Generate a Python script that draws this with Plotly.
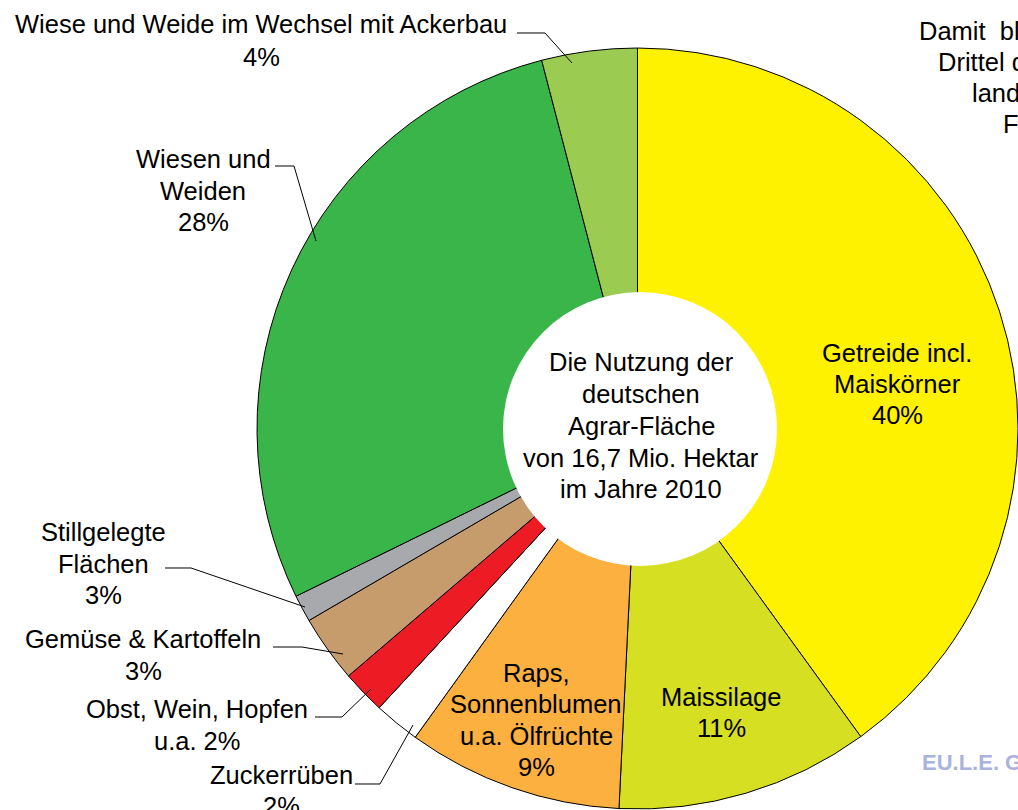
import plotly.graph_objects as go

W, H = 1018, 810

# ---- data (clockwise from 12 o'clock) ----
categories = [
    "Getreide incl. Maiskörner",
    "Maissilage",
    "Raps, Sonnenblumen u.a. Ölfrüchte",
    "Zuckerrüben",
    "Obst, Wein, Hopfen u.a.",
    "Gemüse & Kartoffeln",
    "Stillgelegte Flächen",
    "Wiesen und Weiden",
    "Wiese und Weide im Wechsel mit Ackerbau",
]
values = [40.0, 10.75, 9.15, 1.95, 1.85, 2.85, 1.15, 28.2, 4.05]
percent_labels = ["40%", "11%", "9%", "2%", "2%", "3%", "3%", "28%", "4%"]
colors = ["#FFF200", "#D7DF23", "#FBB040", "#FFFFFF", "#ED1C24",
          "#C69C6D", "#A7A9AC", "#39B54A", "#9CCB52"]

center_title = ["Die Nutzung der", "deutschen", "Agrar-Fläche",
                "von 16,7 Mio. Hektar", "im Jahre 2010"]

# label text lines per slice
label_lines = [
    ["Getreide incl.", "Maiskörner", percent_labels[0]],
    ["Maissilage", percent_labels[1]],
    ["Raps,", "Sonnenblumen", "u.a. Ölfrüchte", percent_labels[2]],
    ["Zuckerrüben", percent_labels[3]],
    ["Obst, Wein, Hopfen", "u.a. " + percent_labels[4]],
    ["Gemüse & Kartoffeln", percent_labels[5]],
    ["Stillgelegte", "Flächen", percent_labels[6]],
    ["Wiesen und", "Weiden", percent_labels[7]],
    ["Wiese und Weide im Wechsel mit Ackerbau", percent_labels[8]],
]

side_text = ["Damit\u00a0 bleibt", "Drittel der", "landwirt-", "Fläche"]
watermark = "EU.L.E. GmbH"

# ---- layout helpers (pixel positions of the text and leader lines) ----
label_pos = [  # (centre x, y of each line)
    (897, [353, 384, 415]),
    (721, [697, 728]),
    (536, [673, 704, 736, 767]),
    (281, [775, 806]),
    (197, [709, 741]),
    (143, [639, 671]),
    (103, [532, 564, 595]),
    (203, [159, 191, 222]),
    (261, [24, 57]),
]
leaders = [
    None, None, None,
    [(355, 784), (380, 784), (413, 725)],
    [(315, 717), (342, 717), (371, 689)],
    [(273, 647), (302, 647), (343, 654)],
    [(165, 568), (191, 568), (305, 607)],
    [(275, 166), (294, 166), (316, 241)],
    [(517, 33), (545, 33), (572, 63)],
]

FONT = "Liberation Sans, Arial, Helvetica, sans-serif"
FS = 25.5


def px(x):
    return x / W


def py(y):
    return 1 - y / H


fig = go.Figure()
fig.add_trace(go.Pie(
    labels=categories,
    values=values,
    sort=False,
    direction="clockwise",
    rotation=0,
    marker=dict(colors=colors, line=dict(color="#000000", width=1)),
    textinfo="none",
    hoverinfo="label+percent",
    showlegend=False,
    domain=dict(x=[px(257), 1.0], y=[py(809), py(48)]),
))

shapes = []
# white centre disc
hr = 137
hcx, hcy = 640, 429
shapes.append(dict(type="circle", xref="paper", yref="paper",
                   x0=px(hcx - hr), x1=px(hcx + hr),
                   y0=py(hcy + hr), y1=py(hcy - hr),
                   fillcolor="#FFFFFF", line=dict(width=0), layer="above"))
for pts in leaders:
    if pts is None:
        continue
    path = "M " + " L ".join(f"{px(x):.5f},{py(y):.5f}" for x, y in pts)
    shapes.append(dict(type="path", xref="paper", yref="paper", path=path,
                       line=dict(color="#000000", width=1), layer="above"))

annotations = []
for lines, (cx, ys) in zip(label_lines, label_pos):
    for t, y in zip(lines, ys):
        annotations.append(dict(x=px(cx), y=py(y), xref="paper", yref="paper",
                                text=t, showarrow=False, xanchor="center",
                                yanchor="middle",
                                font=dict(family=FONT, size=FS, color="#000000")))

for t, y in zip(center_title, [362, 394, 426, 458, 489]):
    annotations.append(dict(x=px(641), y=py(y), xref="paper", yref="paper",
                            text=t, showarrow=False, xanchor="center",
                            yanchor="middle",
                            font=dict(family=FONT, size=FS, color="#000000")))

for t, (x, y) in zip(side_text, [(917, 31), (936, 62), (970, 93), (1001, 124)]):
    annotations.append(dict(x=px(x), y=py(y), xref="paper", yref="paper",
                            text=t, showarrow=False, xanchor="left",
                            yanchor="middle",
                            font=dict(family=FONT, size=FS, color="#000000")))

annotations.append(dict(x=px(920), y=py(762), xref="paper", yref="paper",
                        text="<b>" + watermark + "</b>", showarrow=False,
                        xanchor="left", yanchor="middle",
                        font=dict(family=FONT, size=22, color="#A9B3DD")))

fig.update_layout(
    width=W, height=H,
    margin=dict(l=0, r=0, t=0, b=0),
    paper_bgcolor="#FFFFFF",
    plot_bgcolor="#FFFFFF",
    shapes=shapes,
    annotations=annotations,
)

fig.write_html("out.html")
